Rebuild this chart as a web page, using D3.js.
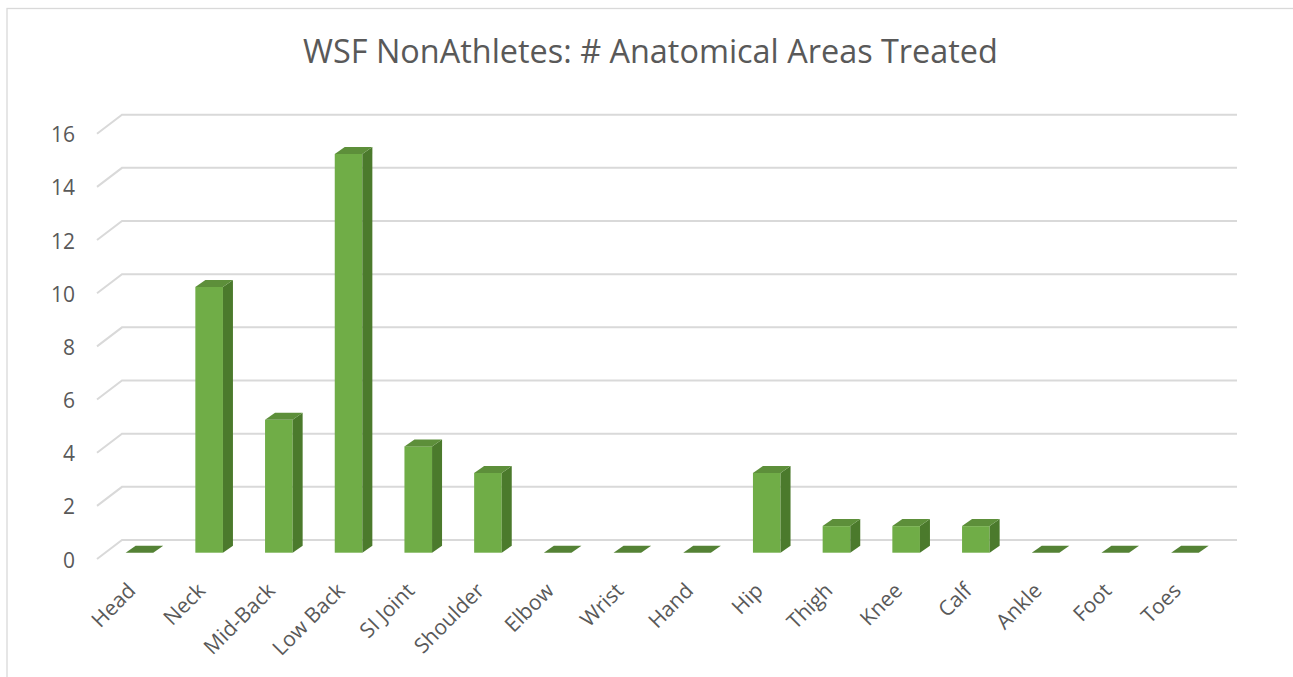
<!DOCTYPE html>
<html>
<head>
<meta charset="utf-8">
<script src="https://cdn.jsdelivr.net/npm/d3@7/dist/d3.min.js"></script>
<style>
  html, body { margin: 0; padding: 0; background: #fff; }
  svg { display: block; }
</style>
</head>
<body>
<svg id="chart" width="1293" height="677"></svg>
<script>
const titleText = "WSF NonAthletes: # Anatomical Areas Treated";
const categories = ["Head", "Neck", "Mid-Back", "Low Back", "SI Joint", "Shoulder", "Elbow", "Wrist", "Hand", "Hip", "Thigh", "Knee", "Calf", "Ankle", "Foot", "Toes"];
const values = [0, 10, 5, 15, 4, 3, 0, 0, 0, 3, 1, 1, 1, 0, 0, 0];
const yTicks = [0, 2, 4, 6, 8, 10, 12, 14, 16];

const svg = d3.select("#chart");
const font = "'Open Sans', 'Liberation Sans', sans-serif";
const textColor = "#595959";
const gridColor = "#D9D9D9";

svg.append("rect")
  .attr("x", 7).attr("y", 8.5)
  .attr("width", 1400).attr("height", 800)
  .attr("fill", "#fff")
  .attr("stroke", gridColor).attr("stroke-width", 1.3);

const title = svg.append("text")
  .attr("x", 650.5).attr("y", 62.5)
  .attr("text-anchor", "middle")
  .attr("font-family", font)
  .attr("font-size", 28)
  .attr("fill", textColor)
  .text(titleText);
const tw = title.node().getComputedTextLength();
if (tw > 0) title.attr("font-size", 28 * 695 / tw);

const backLeft = 122, backRight = 1237;
const wallDx = 25, wallDy = 19;
const barDx = 10, barDy = 7;

const yBack = d3.scaleLinear().domain([0, 16]).range([540, 114.7]);
const yFront = d3.scaleLinear().domain([0, 16]).range([552.7, 127.4]);

const x = d3.scaleBand().domain(categories).range([104.6, 1219.8]).padding(0);
const barW = x.bandwidth() * 0.396;

const grid = svg.append("g");
yTicks.forEach(t => {
  const yb = yBack(t);
  grid.append("path")
    .attr("d", `M${backLeft - wallDx},${yb + wallDy} L${backLeft},${yb} L${backRight},${yb}`)
    .attr("fill", "none")
    .attr("stroke", gridColor)
    .attr("stroke-width", 2);
});

svg.append("g").selectAll("text").data(yTicks).enter().append("text")
  .attr("x", 75)
  .attr("y", d => yBack(d) + 20 + 7.5)
  .attr("text-anchor", "end")
  .attr("font-family", font)
  .attr("font-size", 21)
  .attr("fill", textColor)
  .text(d => d);

const bars = svg.append("g");
categories.forEach((c, i) => {
  const v = values[i];
  const cx = x(c) + x.bandwidth() / 2;
  const x0 = cx - barW / 2, x1 = cx + barW / 2;
  const y0 = yFront(0), yt = yFront(v);
  if (v > 0) {
    bars.append("rect")
      .attr("x", x0).attr("y", yt)
      .attr("width", barW).attr("height", y0 - yt)
      .attr("fill", "#70AD47");
    bars.append("path")
      .attr("d", `M${x1},${yt} L${x1 + barDx},${yt - barDy} L${x1 + barDx},${y0 - barDy} L${x1},${y0} Z`)
      .attr("fill", "#4B7A2C");
  }
  bars.append("path")
    .attr("d", `M${x0},${yt} L${x1},${yt} L${x1 + barDx},${yt - barDy} L${x0 + barDx},${yt - barDy} Z`)
    .attr("fill", v > 0 ? "#5D8F3A" : "#548235");
});

svg.append("g").selectAll("text").data(categories).enter().append("text")
  .attr("transform", d => `translate(${x(d) + x.bandwidth() / 2 - 2.5},592) rotate(-45)`)
  .attr("text-anchor", "end")
  .attr("font-family", font)
  .attr("font-size", 21)
  .attr("fill", textColor)
  .text(d => d);
</script>
</body>
</html>
